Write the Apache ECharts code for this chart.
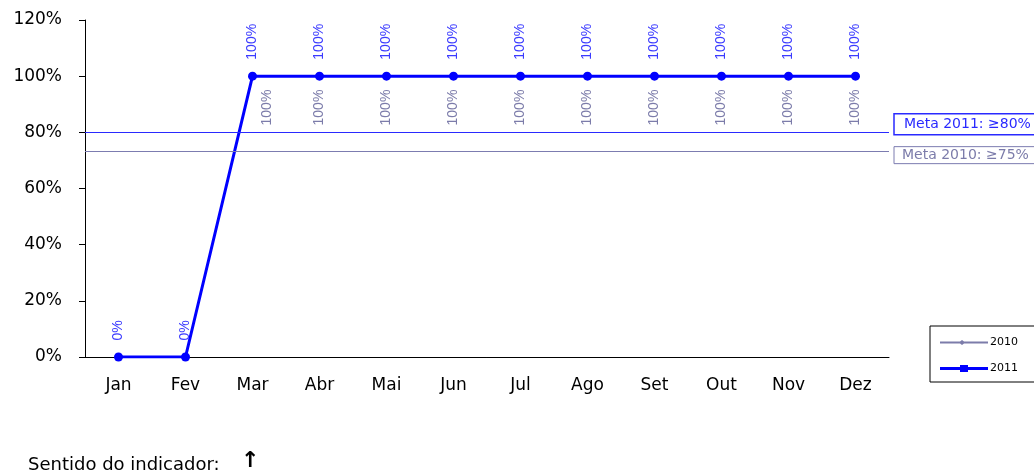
<!DOCTYPE html>
<html>
<head>
<meta charset="utf-8">
<script src="https://cdn.jsdelivr.net/npm/echarts@6/dist/echarts.min.js"></script>
<style>
  html, body { margin: 0; padding: 0; background: #fff; }
  #chart { width: 1034px; height: 473px; }
</style>
</head>
<body>
<div id="chart"></div>
<script>
	// dados do gráfico
	var meses = ['Jan', 'Fev', 'Mar', 'Abr', 'Mai', 'Jun', 'Jul', 'Ago', 'Set', 'Out', 'Nov', 'Dez'];
	var dados2010 = [null, null, 100, 100, 100, 100, 100, 100, 100, 100, 100, 100];
	var dados2011 = [0, 0, 100, 100, 100, 100, 100, 100, 100, 100, 100, 100];
	var meta2011 = 80;
	var meta2010 = 73.3; // linha desenhada um pouco abaixo de 75 no original
	var metaTextos = ['Meta 2011: ≥80%', 'Meta 2010: ≥75%'];

	var fonte = '"DejaVu Sans", sans-serif';
	var fonteDados = '"Liberation Sans", Arial, sans-serif';
	var cinza = '#7c7caa';
	var azul = '#0000ff';

	// rótulo de Mar/2010 fica deslocado para a direita (evita a linha)
	// (texto girado 90°: o eixo y local aponta para a direita)
	var serie2010 = dados2010.map(function (v, i) {
		if (i === 2) return { value: v, label: { offset: [0, 15] } };
		return v;
	});

	var chart = echarts.init(document.getElementById('chart'));

	chart.setOption({
		animation: false,
		textStyle: { fontFamily: fonte },
		grid: { left: 85, right: 145, top: 20, bottom: 116 },
		legend: {
			orient: 'vertical',
			right: -14,
			top: 326,
			width: 112,
			padding: [11, 30, 8, 10],
			itemGap: 15,
			itemWidth: 48,
			itemHeight: 8,
			borderColor: '#000',
			borderWidth: 1,
			textStyle: { fontSize: 11, color: '#000', padding: [0, 0, 0, -3] },
			data: [
				{ name: '2010', icon: 'path://M0,3L20,3L22,1.5L24,3L48,3L48,5L24,5L22,6.5L20,5L0,5Z' },
				{ name: '2011', icon: 'path://M0,2.5L20,2.5L20,0.5L28,0.5L28,2.5L48,2.5L48,5.5L28,5.5L28,7.5L20,7.5L20,5.5L0,5.5Z' }
			]
		},
		xAxis: {
			type: 'category',
			data: meses,
			axisLine: { lineStyle: { color: '#000', width: 1 } },
			axisTick: { lineStyle: { color: '#000' }, length: 5 },
			axisLabel: { color: '#000', fontSize: 17, margin: 20, fontFamily: fonte }
		},
		yAxis: {
			type: 'value',
			min: 0,
			max: 120,
			interval: 20,
			splitLine: { show: false },
			axisLine: { show: true, lineStyle: { color: '#000' } },
			axisTick: { show: true, lineStyle: { color: '#000' }, length: 6 },
			axisLabel: { color: '#000', fontSize: 17, margin: 23, fontFamily: fonte, formatter: '{value}%' }
		},
		series: [
			{
				name: '2010',
				type: 'line',
				data: serie2010,
				z: 2,
				color: cinza,
				symbol: 'diamond',
				symbolSize: 7,
				lineStyle: { width: 1.5, color: cinza },
				itemStyle: { color: cinza },
				label: {
					show: true,
					position: 'bottom',
					rotate: 90,
					align: 'right',
					verticalAlign: 'middle',
					distance: 10,
					fontSize: 14,
					fontFamily: fonteDados,
					color: cinza,
					formatter: '{c}%'
				},
				markLine: {
					silent: true,
					symbol: 'none',
					data: [
						{
							yAxis: meta2010,
							lineStyle: { color: '#7c7cb0', width: 1, type: 'solid' },
							label: {
								show: true,
								position: 'end',
								distance: 5,
								offset: [0, 4],
								formatter: metaTextos[1],
								color: cinza,
								fontSize: 14,
								fontFamily: fonte,
								borderColor: '#7c7cb0',
								borderWidth: 1,
								padding: [2, 20, 1, 8],
								width: 122
							}
						},
						{
							yAxis: meta2011,
							lineStyle: { color: '#2a2aff', width: 1, type: 'solid' },
							label: {
								show: true,
								position: 'end',
								distance: 5,
								offset: [0, -8],
								formatter: metaTextos[0],
								color: '#2a2aff',
								fontSize: 14,
								fontFamily: fonte,
								borderColor: '#2a2aff',
								borderWidth: 1.5,
								padding: [4, 20, 3, 10],
								width: 120
							}
						}
					]
				}
			},
			{
				name: '2011',
				type: 'line',
				data: dados2011,
				z: 3,
				color: azul,
				symbol: 'circle',
				symbolSize: 9,
				lineStyle: { width: 3, color: azul },
				itemStyle: { color: azul },
				label: {
					show: true,
					position: 'top',
					rotate: 90,
					align: 'left',
					verticalAlign: 'middle',
					distance: 12,
					fontSize: 14,
					fontFamily: fonteDados,
					color: '#3b3bff',
					formatter: '{c}%'
				}
			}
		],
		graphic: [
			{
				type: 'text',
				left: 28,
				top: 456,
				style: { text: 'Sentido do indicador:', font: '18px ' + fonte, fill: '#000' }
			},
			{
				type: 'text',
				left: 241,
				top: 450,
				style: { text: '↑', font: 'bold 22px "DejaVu Sans"', fill: '#000' }
			}
		]
	});
</script>
</body>
</html>
